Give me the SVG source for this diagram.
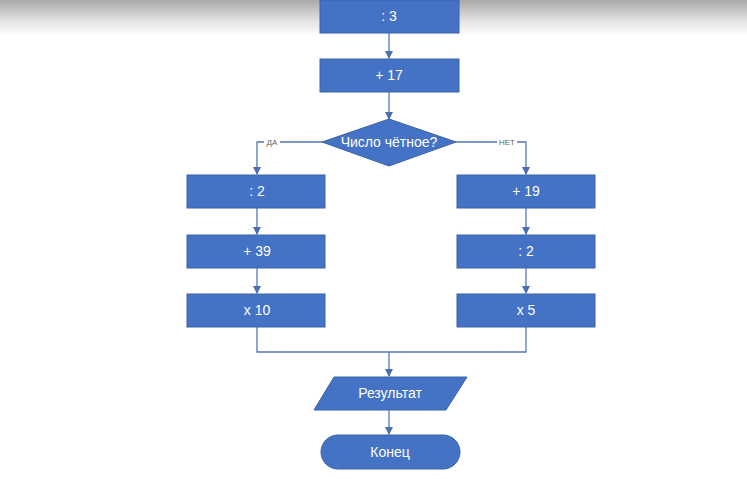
<svg xmlns="http://www.w3.org/2000/svg" width="747" height="479" viewBox="0 0 747 479">
<defs>
<linearGradient id="shade" x1="0" y1="0" x2="0" y2="1">
<stop offset="0" stop-color="#a9a9a9"/>
<stop offset="0.6" stop-color="#e4e4e4"/>
<stop offset="1" stop-color="#ffffff"/>
</linearGradient>
<marker id="arr" markerWidth="8" markerHeight="8" refX="7" refY="4" orient="auto" markerUnits="userSpaceOnUse">
<path d="M0,0 L8,4 L0,8 z" fill="#4a6fae"/>
</marker>
<style>
.n{fill:#4472c4;stroke:#3a62a8;stroke-width:1}
.t{fill:#ffffff;font-family:"Liberation Sans",Arial,sans-serif;font-size:14px;text-anchor:middle;dominant-baseline:central}
.c{fill:none;stroke:#5578b4;stroke-width:1.3}
.l{fill:#666666;font-family:"Liberation Sans",Arial,sans-serif;font-size:8px;text-anchor:middle;dominant-baseline:central}
</style>
</defs>
<rect x="0" y="0" width="747" height="479" fill="#ffffff"/>
<rect x="0" y="0" width="747" height="36" fill="url(#shade)"/>
<g id="connectors">
<path class="c" d="M389,33 V58" marker-end="url(#arr)"/>
<path class="c" d="M389,92 V119" marker-end="url(#arr)"/>
<path class="c" d="M322,142 H257 V174" marker-end="url(#arr)"/>
<path class="c" d="M456,142 H526 V174" marker-end="url(#arr)"/>
<path class="c" d="M257,208 V234" marker-end="url(#arr)"/>
<path class="c" d="M257,268 V293" marker-end="url(#arr)"/>
<path class="c" d="M526,208 V234" marker-end="url(#arr)"/>
<path class="c" d="M526,268 V293" marker-end="url(#arr)"/>
<path class="c" d="M257,327 V352 H526 V327"/>
<path class="c" d="M389,352 V376" marker-end="url(#arr)"/>
<path class="c" d="M389,410 V434" marker-end="url(#arr)"/>
<rect x="264" y="137" width="16" height="10" fill="#ffffff"/>
<text class="l" x="272" y="142">ДА</text>
<rect x="497" y="137" width="20" height="10" fill="#ffffff"/>
<text class="l" x="507" y="142">НЕТ</text>
</g>
<g id="n1"><rect class="n" x="320" y="0" width="139" height="33"/><text class="t" x="389" y="16">: 3</text></g>
<g id="n2"><rect class="n" x="320" y="59" width="139" height="33"/><text class="t" x="389" y="75">+ 17</text></g>
<g id="d1"><polygon class="n" points="389,119 456,142 389,166 322,142"/><text class="t" x="389" y="142">Число чётное?</text></g>
<g id="l1"><rect class="n" x="187" y="175" width="138" height="33"/><text class="t" x="257" y="191">: 2</text></g>
<g id="l2"><rect class="n" x="187" y="235" width="138" height="33"/><text class="t" x="257" y="251">+ 39</text></g>
<g id="l3"><rect class="n" x="187" y="294" width="138" height="33"/><text class="t" x="257" y="310">x 10</text></g>
<g id="r1"><rect class="n" x="457" y="175" width="138" height="33"/><text class="t" x="526" y="191">+ 19</text></g>
<g id="r2"><rect class="n" x="457" y="235" width="138" height="33"/><text class="t" x="526" y="251">: 2</text></g>
<g id="r3"><rect class="n" x="457" y="294" width="138" height="33"/><text class="t" x="526" y="310">x 5</text></g>
<g id="res"><polygon class="n" points="334,377 467,377 446,410 314,410"/><text class="t" x="390" y="393">Результат</text></g>
<g id="end"><rect class="n" x="321" y="435" width="139" height="34" rx="17" ry="17"/><text class="t" x="390" y="452">Конец</text></g>
</svg>
